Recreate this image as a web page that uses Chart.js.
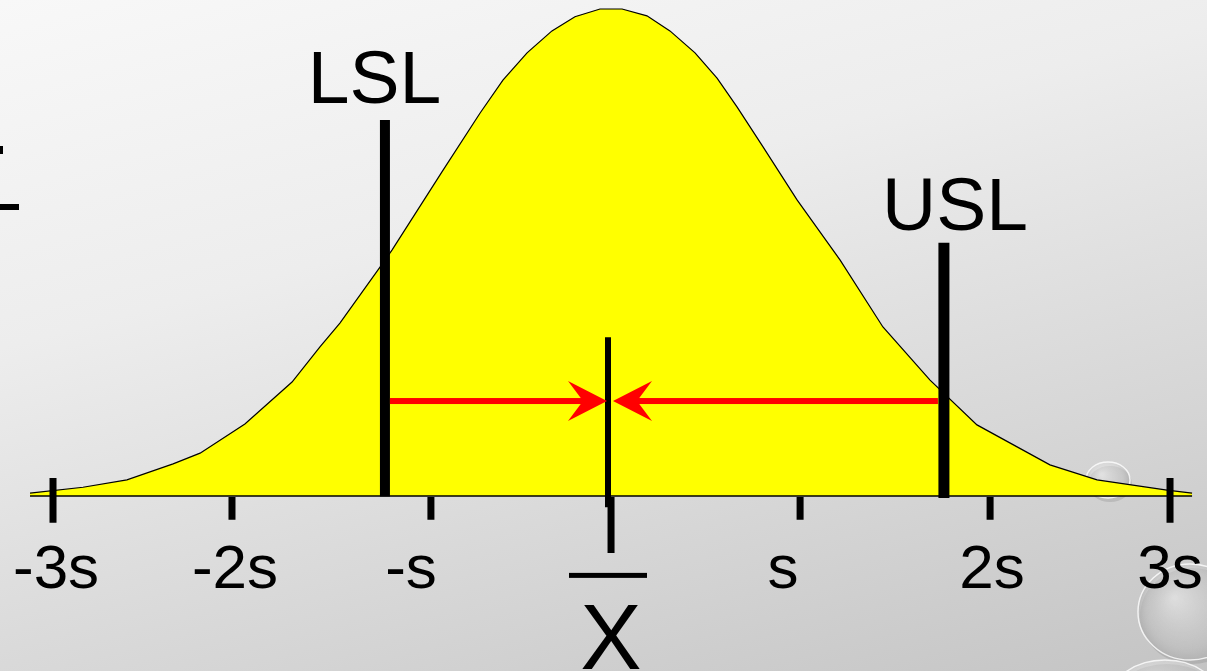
<!DOCTYPE html>
<html>
<head>
<meta charset="utf-8">
<script src="https://cdn.jsdelivr.net/npm/chart.js@4"></script>
<style>
html,body{margin:0;padding:0;width:1207px;height:671px;overflow:hidden;
background:linear-gradient(165deg,#f8f8f8 0%,#ededed 35%,#d4d4d4 75%,#c4c4c4 100%);}
#wrap{position:absolute;left:0;top:0;width:1207px;height:671px;}
</style>
</head>
<body>
<div id="wrap"><canvas id="c" width="1207" height="671"></canvas></div>
<script>
// Normal curve outline (x in sigma units from the mean, y relative to peak height)
const curveX = [-3.042,-2.763,-2.532,-2.289,-2.147,-1.911,-1.663,-1.516,-1.411,-1.200,-1.137,-0.868,-0.674,-0.553,-0.426,-0.295,-0.174,-0.042,0.074,0.205,0.326,0.458,0.574,0.679,0.816,0.995,1.221,1.447,1.695,1.942,2.326,2.574,2.942,3.074];
const curveY = [0.006,0.018,0.033,0.066,0.088,0.148,0.234,0.306,0.355,0.470,0.505,0.669,0.786,0.854,0.910,0.955,0.984,1.000,1.000,0.986,0.955,0.910,0.858,0.799,0.717,0.608,0.485,0.347,0.238,0.146,0.064,0.033,0.012,0.006];
// Axis ticks (sigma units) and their labels
const tickAt     = [-2.921,-1.979,-0.932,1.011,2.011,2.958];
const tickLabels = ['-3s','-2s','-s','s','2s','3s'];
const labelAt    = [-2.905,-1.963,-1.037,0.921,2.021,2.958];
// Spec limits and mean
const meanX = 0.0;
const lslX = -1.174, lslTop = 0.772;
const uslX = 1.768,  uslTop = 0.520;
const meanTop = 0.326;
const arrowY = 0.195;

const X_MIN = -3.2, X_MAX = 3.15263, Y_MIN = -0.35934, Y_MAX = 1.01848;

const curvePts = curveX.map((x,i)=>({x, y: curveY[i]}));
const vline = (x, y0, y1) => [{x, y:y0},{x, y:y1}];

const datasets = [
  {data: curvePts, borderColor:'#000', borderWidth:1.2, backgroundColor:'#ffff00', fill:'origin', tension:0, pointRadius:0, order:10},
  {data: [{x:curveX[0],y:0},{x:curveX[curveX.length-1],y:0}], borderColor:'#000', borderWidth:1.6, pointRadius:0, fill:false, order:9},
  {data: vline(lslX, -0.001, lslTop), borderColor:'#000', borderWidth:10, pointRadius:0, fill:false, order:2},
  {data: vline(uslX, -0.004, uslTop), borderColor:'#000', borderWidth:11, pointRadius:0, fill:false, order:2},
  {data: vline(meanX, -0.023, meanTop), borderColor:'#000', borderWidth:6, pointRadius:0, fill:false, order:2},
  {data: vline(0.016, -0.002, -0.117), borderColor:'#000', borderWidth:7, pointRadius:0, fill:false, order:2},
];
tickAt.forEach((t,i)=>{
  const big = (i===0 || i===tickAt.length-1);
  datasets.push({data: vline(t, big?0.037:-0.002, big?-0.055:-0.049), borderColor:'#000', borderWidth:big?7:7, pointRadius:0, fill:false, order:2});
});

const FONT = '"Liberation Sans", Arial, sans-serif';

const deco = {
  id:'deco',
  beforeDatasetsDraw(chart){
    const ctx = chart.ctx;
    ctx.save();
    // cut-off glyph at the left edge
    ctx.fillStyle = '#000';
    ctx.fillRect(0,146,3,8);
    ctx.fillRect(0,204,19,6);
    // water drops
    function drop(cx, cy, rx, ry){
      ctx.save();
      ctx.beginPath(); ctx.ellipse(cx+2, cy+4, rx, ry, 0, 0, Math.PI*2);
      ctx.fillStyle='rgba(90,90,90,0.18)'; ctx.fill();
      ctx.beginPath(); ctx.ellipse(cx, cy, rx, ry, 0, 0, Math.PI*2);
      const g = ctx.createRadialGradient(cx-rx*0.3, cy-ry*0.3, 1, cx, cy, Math.max(rx,ry));
      g.addColorStop(0,'rgba(255,255,255,0.55)');
      g.addColorStop(0.7,'rgba(225,225,225,0.35)');
      g.addColorStop(1,'rgba(170,170,170,0.55)');
      ctx.fillStyle=g; ctx.fill();
      ctx.lineWidth=1.5; ctx.strokeStyle='rgba(255,255,255,0.8)'; ctx.stroke();
      ctx.restore();
    }
    drop(1108, 480, 22, 18);
    drop(1190, 612, 52, 48);
    drop(1165, 700, 55, 40);
    ctx.restore();
  },
  afterDatasetsDraw(chart){
    const ctx = chart.ctx, xs = chart.scales.x, ys = chart.scales.y;
    const px = v => xs.getPixelForValue(v), py = v => ys.getPixelForValue(v);
    ctx.save();
    // red arrows
    const ay = py(arrowY);
    ctx.fillStyle = '#ff0000';
    function arrow(fromX, tipX){
      const dir = Math.sign(tipX - fromX);
      const L = 39, W = 20, N = 24;
      ctx.fillRect(Math.min(fromX, tipX - dir*N), ay-3, Math.abs((tipX - dir*N) - fromX), 6);
      ctx.beginPath();
      ctx.moveTo(tipX, ay);
      ctx.lineTo(tipX - dir*L, ay - W);
      ctx.lineTo(tipX - dir*N, ay);
      ctx.lineTo(tipX - dir*L, ay + W);
      ctx.closePath(); ctx.fill();
    }
    arrow(px(lslX)+5, px(meanX)-1);
    arrow(px(uslX)-6, px(meanX)+5);
    // texts
    ctx.fillStyle = '#000';
    ctx.textAlign = 'center';
    ctx.textBaseline = 'alphabetic';
    ctx.font = '62px ' + FONT;
    tickLabels.forEach((t,i)=> ctx.fillText(t, px(labelAt[i]), py(-0.189)));
    ctx.font = '75px ' + FONT;
    ctx.fillText('LSL', px(-1.229), py(0.807));
    ctx.fillText('USL', px(1.826), py(0.546));
    // X-bar
    ctx.fillRect(569, py(-0.163)-2.5, 78, 5);
    ctx.font = '92px ' + FONT;
    ctx.fillText('X', px(0.016), py(-0.355));
    ctx.restore();
  }
};

new Chart(document.getElementById('c'), {
  type:'line',
  data:{datasets},
  options:{
    responsive:false, animation:false, maintainAspectRatio:false,
    layout:{padding:0},
    plugins:{legend:{display:false}, tooltip:{enabled:false}},
    scales:{
      x:{type:'linear', min:X_MIN, max:X_MAX, display:false},
      y:{type:'linear', min:Y_MIN, max:Y_MAX, display:false}
    }
  },
  plugins:[deco]
});
</script>
</body>
</html>
